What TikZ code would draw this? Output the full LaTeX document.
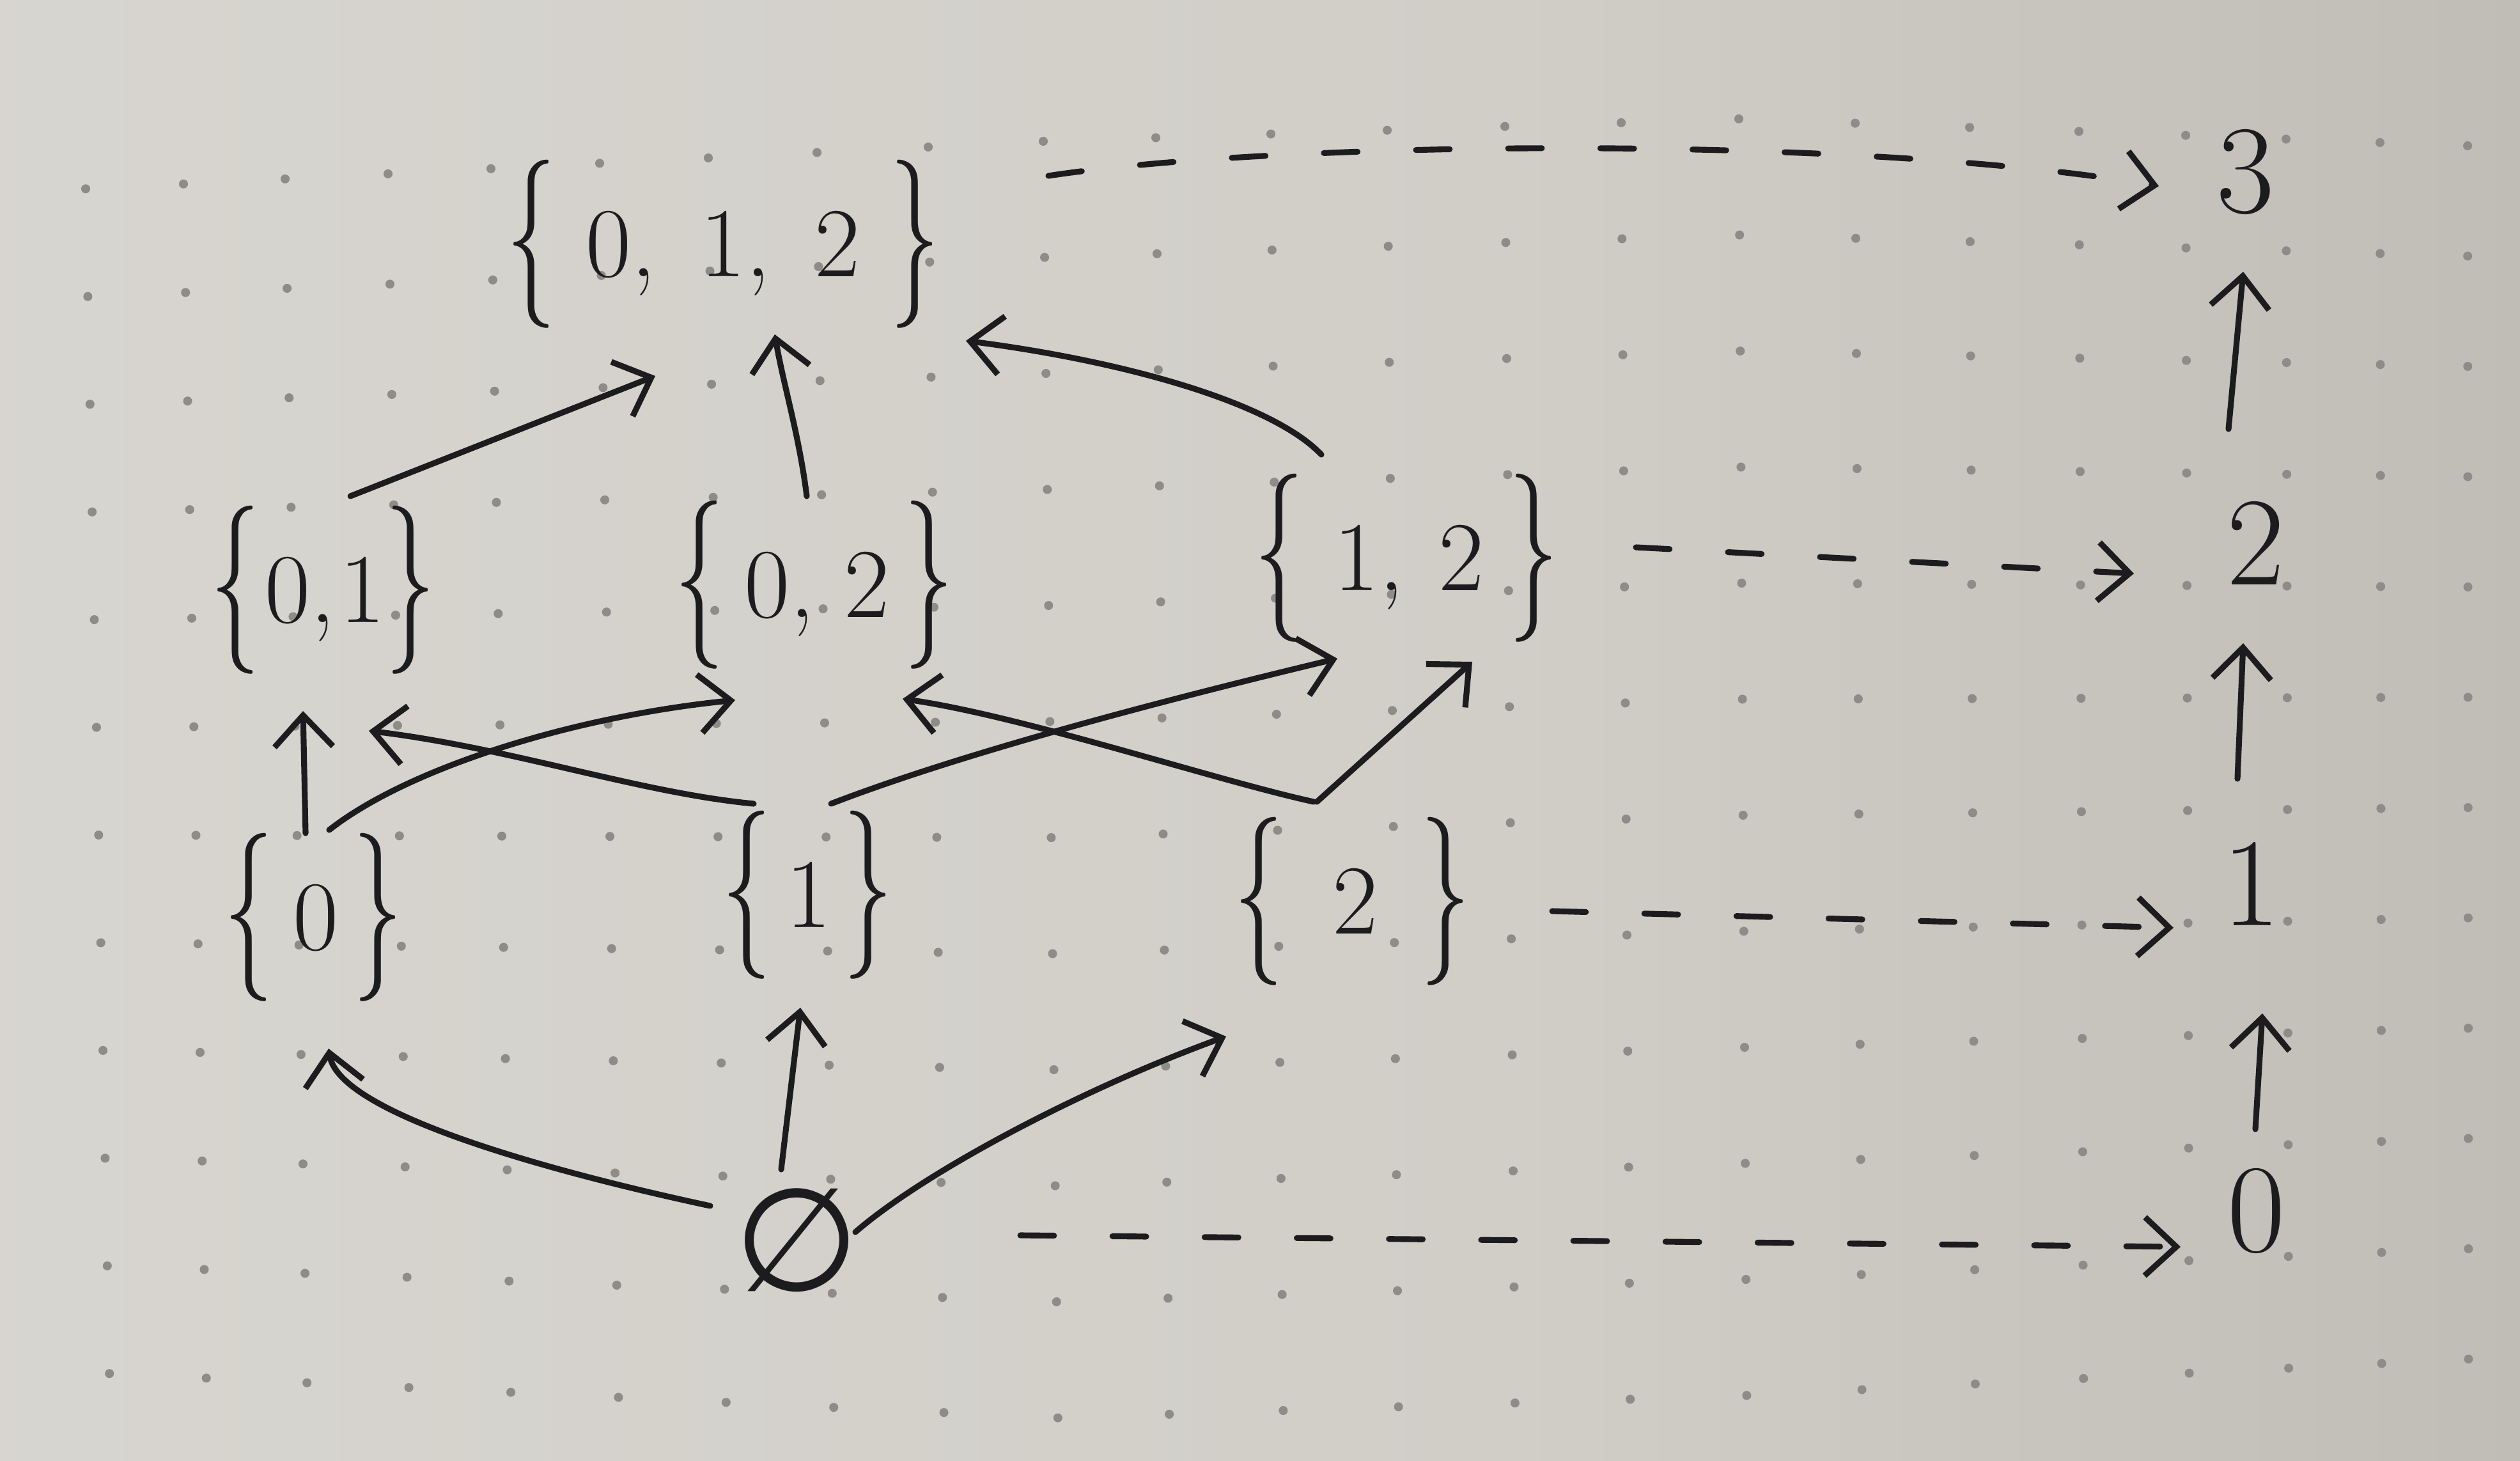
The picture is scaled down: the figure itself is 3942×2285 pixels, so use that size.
\documentclass[tikz,border=0pt]{standalone}
\usepackage{graphicx}
\usepackage{fontspec}
\newfontfamily\symfont{DejaVu Sans}
\usetikzlibrary{arrows.meta,calc}
\definecolor{ink}{HTML}{1C1C1F}
\definecolor{dotc}{HTML}{8E8C89}
\definecolor{paperA}{HTML}{DDDBD6}
\definecolor{paperB}{HTML}{D1CEC8}
\definecolor{paperC}{HTML}{ABA7A1}
\pgfdeclarehorizontalshading{paper}{100bp}{color(0bp)=(paperA); color(55bp)=(paperB); color(100bp)=(paperC)}
\newcommand\lbr{\raisebox{-0.1em}{\scalebox{1}[1.7]{\{}}}
\newcommand\rbr{\raisebox{-0.1em}{\scalebox{1}[1.7]{\}}}}
\begin{document}
\begin{tikzpicture}[x=0.01cm,y=-0.01cm,
  setlbl/.style={inner sep=0pt, text=ink, font=\fontsize{44}{50}\selectfont},
  numlbl/.style={inner sep=0pt, text=ink, font=\fontsize{56}{62}\selectfont},
  conn/.style={draw=ink, line width=2.6pt, line cap=round, -{Straight Barb[length=14pt,width=26pt]}},
  dconn/.style={conn, dash pattern=on 15pt off 26pt}]
\useasboundingbox (0,0) rectangle (3942,2285);
\shade[shading=paper] (0,0) rectangle (3942,2285);
% dot grid of the paper (slightly warped, as in the photograph)
\foreach \X in {134,287,446,607,768,938,1108,1278,1452,1632,1808,1988,2170,2354,2536,2720,2902,3081,3252,3419,3576,3723,3860}{
  \pgfmathsetmacro\Yz{(\X<1632) ? (295-0.0496*(\X-140)) : ((\X<2720) ? (221-0.03217*(\X-1632)) : (186+0.03684*(\X-2720)))}
  \pgfmathsetmacro\Sp{(\X<1632) ? (168.5+0.008713*(\X-140)) : ((\X<2720) ? (181.5) : (181.5-0.007895*(\X-2720)))}
  \foreach \j in {0,...,11}{
    \pgfmathsetmacro\xx{\X+\j*3.5*(1-\X/4000)}
    \pgfmathsetmacro\yy{\Yz+\j*\Sp}
    \fill[dotc] (\xx,\yy) circle[radius=2pt];
  }
}
% nodes
\node[setlbl] (s012) at (1131,382) {\lbr\hspace{0.3em}0,\hspace{0.45em}1,\hspace{0.45em}2\hspace{0.3em}\rbr};
\node[setlbl] (s01) at (505,923) {\lbr\hspace{0.05em}0,\hspace{0.05em}1\rbr};
\node[setlbl] (s02) at (1274,915) {\lbr\hspace{0.2em}0,\hspace{0.3em}2\hspace{0.15em}\rbr};
\node[setlbl] (s12) at (2200,873) {\lbr\hspace{0.3em}1,\hspace{0.35em}2\hspace{0.25em}\rbr};
\node[setlbl] (s0) at (490,1435) {\lbr\hspace{0.2em}0\hspace{0.15em}\rbr};
\node[setlbl] (s1) at (1263,1400) {\lbr\hspace{0.15em}1\hspace{0.12em}\rbr};
\node[setlbl] (s2) at (2115,1410) {\lbr\hspace{0.5em}2\hspace{0.43em}\rbr};
\node[inner sep=0pt, text=ink, font=\symfont\fontsize{64}{70}\selectfont] (e) at (1247,1940) {∅};
\node[numlbl] (n3) at (3513,269) {3};
\node[numlbl] (n2) at (3529,849) {2};
\node[numlbl] (n1) at (3522,1382) {1};
\node[numlbl] (n0) at (3530,1894) {0};
% solid connectors
\draw[conn] ($(s01)+(43,-147)$) -- ($(s012)+(-106,206)$);
\draw[conn] ($(s02)+(-12,-139)$) .. controls (1250,680) and (1225,600) .. ($(s012)+(81,141)$);
\draw[conn] ($(s12)+(-133,-162)$) .. controls (1990,630) and (1760,565) .. ($(s012)+(380,151)$);
\draw[conn] ($(s0)+(-12,-132)$) -- ($(s01)+(-31,189)$);
\draw[conn] ($(s0)+(25,-137)$) .. controls (640,1200) and (900,1120) .. ($(s02)+(-124,180)$);
\draw[conn] ($(s1)+(-84,-143)$) .. controls (1000,1240) and (800,1170) .. ($(s01)+(72,220)$);
\draw[conn] ($(s1)+(37,-143)$) .. controls (1500,1180) and (1800,1100) .. ($(s12)+(-108,157)$);
\draw[conn] ($(s2)+(-60,-156)$) .. controls (1900,1220) and (1600,1120) .. ($(s02)+(138,178)$);
\draw[conn] ($(s2)+(-55,-156)$) -- ($(s12)+(103,162)$);
\draw[conn] ($(e)+(-136,-54)$) .. controls (850,1830) and (530,1740) .. ($(s0)+(24,205)$);
\draw[conn] ($(e)+(-25,-111)$) -- ($(s1)+(-11,176)$);
\draw[conn] ($(e)+(91,-13)$) .. controls (1450,1830) and (1700,1700) .. ($(s2)+(-197,211)$);
% dashed connectors
\draw[dconn] ($(s012)+(509,-107)$) .. controls (2000,220) and (2900,210) .. ($(n3)+(-136,22)$);
\draw[dconn] ($(s12)+(359,-17)$) -- ($(n2)+(-191,48)$);
\draw[dconn] ($(s2)+(313,15)$) -- ($(n1)+(-122,69)$);
\draw[dconn] ($(e)+(349,-8)$) -- ($(n0)+(-119,56)$);
% chain on the right
\draw[conn] ($(n0)+(-2,-128)$) -- ($(n1)+(17,203)$);
\draw[conn] ($(n1)+(-22,-164)$) -- ($(n2)+(-20,157)$);
\draw[conn] ($(n2)+(-43,-178)$) -- ($(n3)+(-4,156)$);
\end{tikzpicture}
\end{document}
